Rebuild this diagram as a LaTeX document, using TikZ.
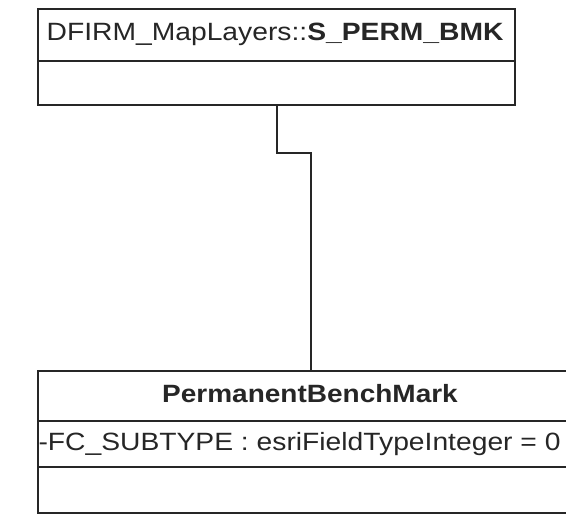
\documentclass[tikz,border=0pt]{standalone}
\usepackage{fontspec}
\setmainfont{Liberation Sans}
\begin{document}
\begin{tikzpicture}[x=1pt,y=1pt,
  box/.style={draw=black!85,line width=2pt,inner sep=0pt,outer sep=0pt,anchor=north west},
  lbl/.style={inner sep=0pt,font=\fontsize{25}{29}\selectfont,text=black!85},
  conn/.style={draw=black!85,line width=2pt}]
\useasboundingbox (0,0) rectangle (566,-531);
\clip (0,0) rectangle (566,-531);
% top class
\node[box,minimum width=477pt,minimum height=52pt] (th) at (38,-9) {};
\node[box,minimum width=477pt,minimum height=43.5pt] (tb) at (38,-61) {};
\node[lbl,anchor=base west] (tt) at (46.5,-40.7) {\scalebox{1.13}[1]{DFIRM\_MapLayers::\textbf{S\_PERM\_BMK}}};
% bottom class
\node[box,minimum width=560pt,minimum height=50pt] (bh) at (38,-371) {};
\node[box,minimum width=560pt,minimum height=45.5pt] (ba) at (38,-421) {};
\node[box,minimum width=560pt,minimum height=46.5pt] (bo) at (38,-466.5) {};
\node[lbl,anchor=base] (bt) at (310,-402) {\scalebox{1.12}[1]{\textbf{PermanentBenchMark}}};
\node[lbl,anchor=base west] (bat) at (38.3,-450) {\scalebox{1.13}[1]{-FC\_SUBTYPE : esriFieldTypeInteger = 0}};
% connector
\coordinate (c1) at (277,-153);
\coordinate (c2) at (311,-153);
\draw[conn] (tb.south -| c1) -- (c1) -- (c2) -- (bh.north -| c2);
\end{tikzpicture}
\end{document}
